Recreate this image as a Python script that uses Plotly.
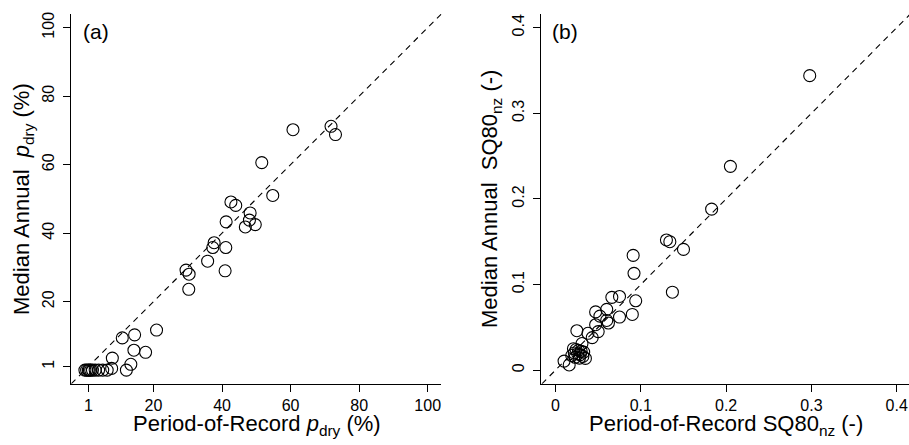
import plotly.graph_objects as go

W, H = 909, 445

# ---- Panel (a): p_dry (%) ----
a_por = [0.0, 0.5, 1.0, 1.3, 1.7, 2.2, 3.0, 4.0, 5.2, 6.5, 7.8, 8.0, 10.9, 14.5, 20.9, 14.3, 17.7,
         13.4, 12.1, 30.3, 29.5, 30.4, 40.9, 35.8, 37.7, 37.3, 41.1, 41.2, 48.0, 46.8,
         49.7, 48.2, 42.6, 44.0, 54.8, 51.6, 60.7, 71.8, 73.1]
a_med = [0.0, 0.0, 0.0, 0.0, 0.0, 0.0, 0.0, 0.0, 0.0, 0.0, 0.5, 3.5, 9.4, 10.3, 11.7, 5.8, 5.2,
         1.7, 0.0, 23.6, 29.2, 28.0, 29.0, 31.8, 37.2, 35.8, 35.8, 43.3, 43.8, 41.8,
         42.5, 45.9, 49.1, 48.1, 51.0, 60.6, 70.2, 71.2, 68.8]
a_tickvals = [1, 20, 40, 60, 80, 100]
a_ticktext = ["1", "20", "40", "60", "80", "100"]
a_range = [-4, 104]

# ---- Panel (b): SQ80_nz (-) ----
b_por = [0.298, 0.205, 0.183, 0.130, 0.134, 0.150, 0.091, 0.092, 0.137, 0.094, 0.090,
         0.075, 0.066, 0.075, 0.060, 0.047, 0.052, 0.060, 0.062, 0.047, 0.050, 0.025,
         0.038, 0.043, 0.031, 0.010, 0.016, 0.035, 0.021, 0.024, 0.027, 0.030, 0.022,
         0.026, 0.029, 0.033, 0.019, 0.023, 0.028, 0.032]
b_med = [0.344, 0.238, 0.188, 0.152, 0.150, 0.141, 0.134, 0.113, 0.091, 0.081, 0.065,
         0.062, 0.085, 0.086, 0.071, 0.068, 0.063, 0.058, 0.055, 0.053, 0.045, 0.046,
         0.043, 0.038, 0.031, 0.0105, 0.006, 0.0137, 0.025, 0.024, 0.023, 0.022, 0.020,
         0.019, 0.018, 0.021, 0.017, 0.015, 0.014, 0.016]
b_tickvals = [0, 0.1, 0.2, 0.3, 0.4]
b_ticktext = ["0", "0.1", "0.2", "0.3", "0.4"]
b_xrange = [-0.0167, 0.4144]
b_yrange = [-0.016, 0.416]

FONT = "Arial, Liberation Sans, Helvetica, sans-serif"
mk = dict(symbol="circle-open", size=12, color="black", line=dict(width=1.1, color="black"))

fig = go.Figure()
fig.add_trace(go.Scatter(x=a_por, y=a_med, mode="markers", marker=mk, xaxis="x", yaxis="y",
                         showlegend=False))
fig.add_trace(go.Scatter(x=b_por, y=b_med, mode="markers", marker=mk, xaxis="x2", yaxis="y2",
                         showlegend=False))

# 1:1 lines
fig.add_shape(type="line", xref="x", yref="y", x0=a_range[0], y0=a_range[0],
              x1=a_range[1], y1=a_range[1], line=dict(color="black", width=1.1, dash="6px,5px"))
fig.add_shape(type="line", xref="x2", yref="y2", x0=b_yrange[0], y0=b_yrange[0],
              x1=b_yrange[1], y1=b_yrange[1], line=dict(color="black", width=1.1, dash="6px,5px"))

ydom = [(H - 383.8) / H, (H - 14.0) / H]
axcommon = dict(showline=True, linecolor="black", linewidth=1.1, mirror=False, showgrid=False,
                zeroline=False, ticks="outside", ticklen=7, tickwidth=1.1, tickcolor="black",
                tickfont=dict(family=FONT, size=16, color="black"), automargin=False,
                ticklabeloverflow="allow")

fig.update_layout(
    width=W, height=H, margin=dict(l=0, r=0, t=0, b=0),
    paper_bgcolor="white", plot_bgcolor="white",
    xaxis=dict(domain=[71.2 / W, 441.4 / W], range=a_range, tickmode="array",
               tickvals=a_tickvals, ticktext=a_ticktext, anchor="y", **axcommon),
    yaxis=dict(domain=ydom, range=a_range, tickmode="array", tickvals=a_tickvals,
               ticktext=a_ticktext, tickangle=-90, anchor="x", ticklabelstandoff=3, **axcommon),
    xaxis2=dict(domain=[541.3 / W, 1.0], range=b_xrange, tickmode="array",
                tickvals=b_tickvals, ticktext=b_ticktext, anchor="y2", **axcommon),
    yaxis2=dict(domain=ydom, range=b_yrange, tickmode="array", tickvals=b_tickvals,
                ticktext=b_ticktext, tickangle=-90, anchor="x2", ticklabelstandoff=3, **axcommon),
)

def ann(text, px, py, size, angle=0):
    fig.add_annotation(text=text, x=px / W, y=1 - py / H, xref="paper", yref="paper",
                       showarrow=False, textangle=angle, xanchor="center", yanchor="middle",
                       font=dict(family=FONT, size=size, color="black"))

ann("(a)", 95.5, 31, 21)
ann("(b)", 564.5, 31, 21)
ann("Period-of-Record <i>p</i><sub>dry</sub> (%)", 256.5, 425, 22)
ann("Period-of-Record SQ80<sub>nz</sub> (-)", 726, 425, 22)
ann("Median Annual  <i>p</i><sub>dry</sub> (%)", 23, 199, 22, -90)
ann("Median Annual  SQ80<sub>nz</sub> (-)", 491, 199, 22, -90)

fig.write_html("out.html", config={"displayModeBar": False},
               post_script="document.body.style.margin='0';document.body.style.overflow='hidden';")
